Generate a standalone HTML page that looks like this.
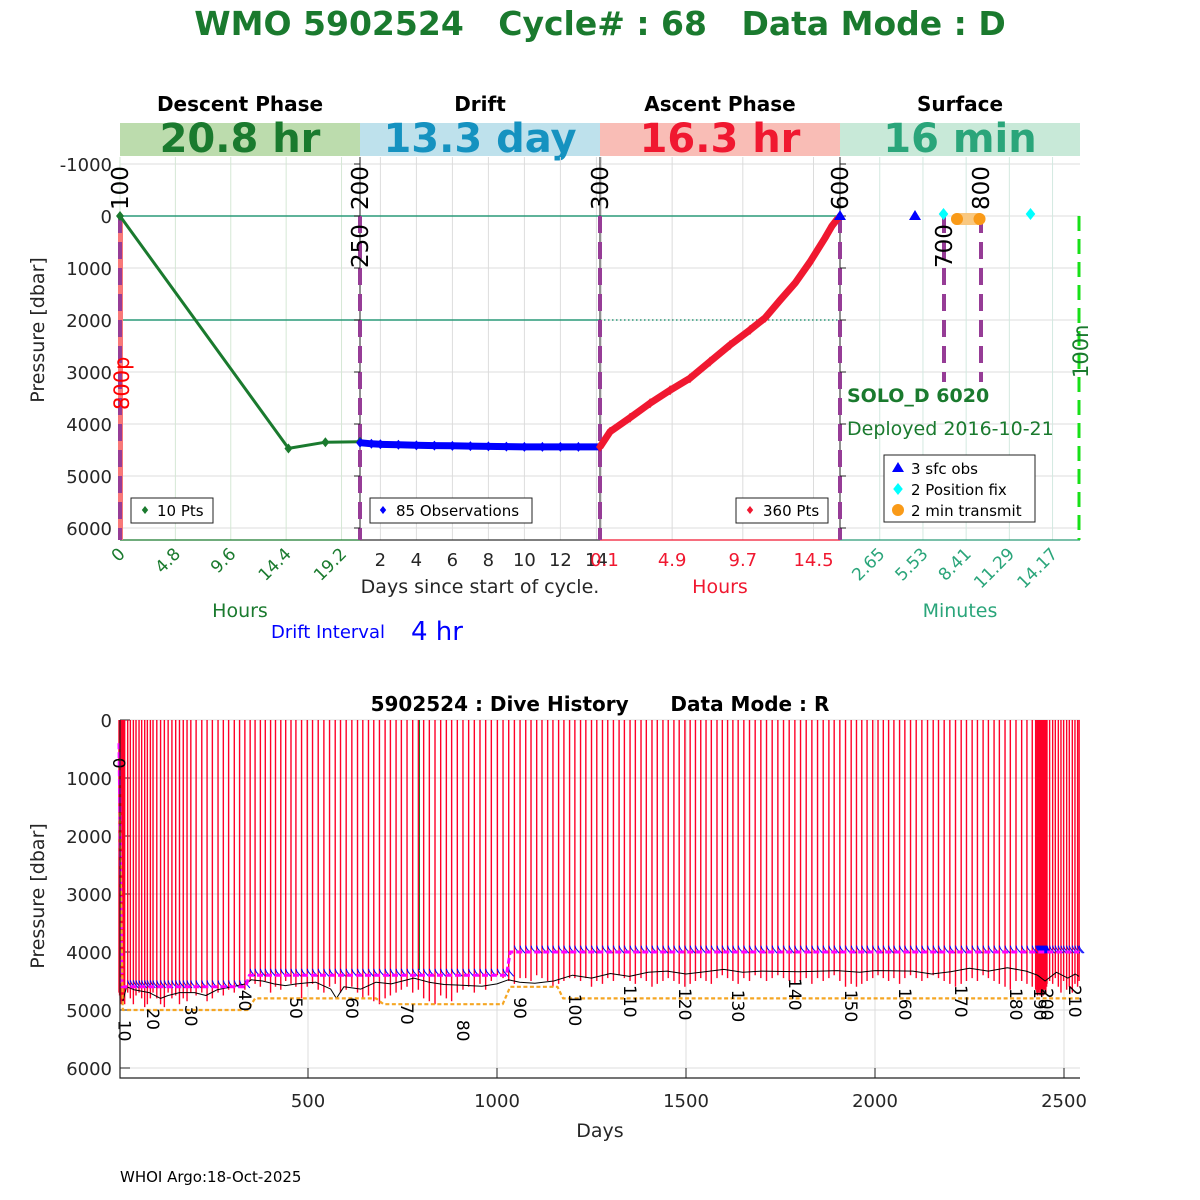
<!DOCTYPE html>
<html><head><meta charset="utf-8"><style>
html,body{margin:0;padding:0;background:#fff;}
svg{display:block;font-family:"DejaVu Sans","Liberation Sans",sans-serif;}
</style></head><body>
<svg id="root" width="1200" height="1200" viewBox="0 0 1200 1200" xmlns="http://www.w3.org/2000/svg">
<rect x="0" y="0" width="1200" height="1200" fill="#fff"/>
<text x="600" y="35" text-anchor="middle" font-size="33" font-weight="bold" fill="#1a7a2e" style="white-space:pre">WMO 5902524   Cycle# : 68   Data Mode : D</text>
<g font-size="20" font-weight="bold" text-anchor="middle" fill="#000">
<text x="240" y="111">Descent Phase</text>
<text x="480" y="111">Drift</text>
<text x="720" y="111">Ascent Phase</text>
<text x="960" y="111">Surface</text>
</g>
<g>
<rect x="120" y="123" width="240" height="33" fill="#bcdcad"/>
<rect x="360" y="123" width="240" height="33" fill="#bee1ec"/>
<rect x="600" y="123" width="240" height="33" fill="#f9bdb6"/>
<rect x="840" y="123" width="240" height="33" fill="#c8e9d8"/>
<g font-size="40" font-weight="bold" text-anchor="middle">
<text x="240" y="152" fill="#1a7a2e">20.8 hr</text>
<text x="480" y="152" fill="#1592c0">13.3 day</text>
<text x="720" y="152" fill="#f01830">16.3 hr</text>
<text x="960" y="152" fill="#2aa57a">16 min</text>
</g></g>
<g id="topchart"></g>
<g id="botchart"></g>
<text x="120" y="1182" font-size="15" fill="#000">WHOI Argo:18-Oct-2025</text>
</svg>
<script>
// ---------- TOP CHART DATA ----------
const pressureTicks = [-1000,0,1000,2000,3000,4000,5000,6000];
const descentHours = [0, 14.6, 17.8, 20.8];
const descentP = [0, 4470, 4350, 4340];
const driftDays = [0.87, 1.5, 2, 3, 4, 5, 6, 7, 8, 9, 10, 11, 12, 13, 14.2];
const driftP = [4360, 4380, 4390, 4400, 4410, 4415, 4420, 4425, 4430, 4435, 4440, 4440, 4440, 4440, 4440];
const ascentHours = [0, 0.68, 2.04, 3.4, 4.76, 6.11, 7.47, 8.83, 10.19, 11.21, 12.23, 13.25, 14.27, 15.29, 15.76, 16.17];
const ascentP = [4440, 4150, 3880, 3600, 3350, 3120, 2800, 2480, 2190, 1960, 1620, 1290, 880, 420, 190, 40];
const descentTicks = [0, 4.8, 9.6, 14.4, 19.2];
const driftTicks = [2, 4, 6, 8, 10, 12, 14];
const ascentTicks = [0.1, 4.9, 9.7, 14.5];
const surfaceTicks = [2.65, 5.53, 8.41, 11.29, 14.17];
const sfcObsMin = [0, 5];
const fixMin = [6.9, 12.7];
const transmitMin = [7.8, 9.3];

// ---------- BOTTOM CHART DATA ----------
const historyPTicks = [0,1000,2000,3000,4000,5000,6000];
const dayTicks = [500,1000,1500,2000,2500];
const cycleDays = [0,1.5,3,4.5,6,7.5,9,10.5,12,13.5,15,
23,30,38,45,53,60,68,75,83,90,
100,110,120,130,140,150,160,170,180,190,
204,219,233,247,262,276,290,305,319,333,
347,360,374,387,401,414,428,441,455,468,
483,498,512,527,542,557,572,586,601,616,
631,645,660,674,689,704,718,733,747,762,
777,792,806,821,836,851,866,880,895,910,
925,940,955,970,985,1001,1016,1031,1046,1061,
1076,1090,1105,1119,1134,1148,1163,1177,1192,1206,
1221,1235,1250,1264,1279,1293,1308,1323,1337,1352,
1366,1381,1395,1410,1424,1439,1453,1468,1482,1497,
1511,1525,1539,1553,1567,1582,1596,1610,1624,1638,
1653,1668,1683,1698,1713,1728,1743,1758,1773,1788,
1803,1818,1833,1848,1863,1878,1892,1907,1922,1937,
1951,1965,1979,1994,2008,2022,2036,2050,2065,2079,
2094,2109,2124,2139,2154,2168,2183,2198,2213,2228,
2242,2257,2271,2286,2300,2315,2329,2344,2358,2373,
2388,2402,2416,2425,
2428,2430,2432,2434,2436,2437,2439,2441,2443,2445,2447,2448,2450,2452,2454,2455,
2462,2470,2477,2485,2492,2499,2507,2514,2522,2529,2536,2540];
const cycleMaxP = [4700,4750,4800,4850,4900,4850,4800,4850,4800,4850,4900,
4700,4800,4900,4750,4700,4800,4950,4900,4800,4700,
4800,4900,4950,4700,4800,4750,4900,4800,4850,4700,
4750,4700,4850,4800,4700,4750,4650,4700,4600,4650,
4500,4550,4600,4500,4700,4600,4650,4500,4550,4600,
4800,4600,4550,4650,4700,4600,4550,4700,4650,4600,
4700,4800,4750,4850,4900,4800,4750,4700,4650,4600,
4700,4650,4800,4850,4900,4750,4800,4850,4700,4650,
4600,4700,4550,4650,4500,4400,4450,4500,4550,4450,
4450,4500,4400,4450,4500,4600,4550,4500,4450,4450,
4500,4450,4600,4500,4550,4450,4500,4400,4450,4500,
4550,4450,4500,4600,4550,4500,4450,4500,4550,4600,
4550,4500,4450,4500,4550,4450,4400,4450,4500,4550,
4450,4500,4400,4450,4500,4450,4400,4450,4500,4550,
4500,4450,4550,4450,4500,4450,4400,4500,4600,4550,
4600,4550,4500,4450,4400,4450,4500,4450,4550,4450,
4400,4450,4500,4450,4400,4450,4500,4550,4600,4550,
4500,4450,4500,4400,4450,4500,4550,4600,4650,4500,
4500,4550,4600,4650,
4700,4750,4700,4650,4700,4750,4700,4650,4700,4750,4650,4600,4650,4700,4600,4550,
4500,4550,4450,4600,4700,4500,4650,4600,4700,4550,4600,4500];
const bottomDays = [10,20,40,80,110,130,160,200,230,260,300,335,350,380,410,440,470,500,520,560,575,595,640,680,720,780,820,860,900,960,1000,1030,1060,1100,1150,1200,1250,1300,1350,1400,1450,1500,1550,1600,1650,1700,1800,1900,1960,2000,2100,2150,2200,2250,2300,2350,2400,2430,2450,2480,2510,2530,2540];
const bottomP = [4850,4600,4650,4700,4800,4750,4700,4700,4750,4650,4600,4550,4480,4500,4550,4580,4550,4530,4520,4640,4800,4600,4640,4520,4550,4450,4520,4560,4570,4590,4550,4480,4520,4540,4500,4400,4450,4370,4420,4350,4330,4380,4340,4300,4350,4330,4340,4320,4350,4320,4330,4380,4340,4280,4330,4270,4330,4400,4500,4350,4450,4380,4420];
const parkDays = [0,8,335,345,1025,1035,2540];
const parkP = [400,4600,4600,4400,4400,4000,4000];
const profDays = [2,10,340,360,680,700,1015,1035,1160,1175,2540];
const profP = [1600,5000,5000,4800,4800,4900,4900,4600,4600,4800,4800];
const labelCycles = [0,10,20,30,40,50,60,70,80,90,100,110,120,130,140,150,160,170,180,190,200,210];
const labelP = [650,5170,4970,4910,4650,4780,4780,4880,5170,4780,4720,4570,4620,4650,4450,4650,4620,4570,4620,4620,4620,4570];

const NS = 'http://www.w3.org/2000/svg';
function mk(parent, tag, attrs, txt){
  const e = document.createElementNS(NS, tag);
  for (const k in attrs) e.setAttribute(k, attrs[k]);
  if (txt !== undefined) e.textContent = txt;
  parent.appendChild(e);
  return e;
}
const tg = document.getElementById('topchart');
const bg = document.getElementById('botchart');

const yT = p => 216 + p * 0.052;
const xDesc = h => 120 + h * 240 / 20.8;
const xDrift = d => 360 + (d - 0.867) * 18;
const xAsc = h => 600 + h * 240 / 16.3;
const xSfc = m => 840 + m * 15;

let g = mk(tg, 'g', {});


pressureTicks.forEach(p => {
  const l = mk(g, 'line', {x1:120, x2:1080, y1:yT(p), y2:yT(p), stroke:'#dcdcdc', 'stroke-width':1});
  
  
});
descentTicks.forEach(t => { const l = mk(g,'line',{x1:xDesc(t),x2:xDesc(t),y1:157,y2:540,stroke:'#d5e8d5'});   });
driftTicks.forEach(t => { const l = mk(g,'line',{x1:xDrift(t),x2:xDrift(t),y1:157,y2:540,stroke:'#dcdcdc'});   });
ascentTicks.forEach(t => { const l = mk(g,'line',{x1:xAsc(t),x2:xAsc(t),y1:157,y2:540,stroke:'#dcdcdc'});   });
surfaceTicks.forEach(t => { const l = mk(g,'line',{x1:xSfc(t),x2:xSfc(t),y1:157,y2:540,stroke:'#d3e9e0'});   });

let r = mk(tg,'line',{x1:120,x2:840,y1:yT(0),y2:yT(0),stroke:'#2a9a78','stroke-width':1.5});
 
r = mk(tg,'line',{x1:120,x2:600,y1:yT(2000),y2:yT(2000),stroke:'#2a9a78','stroke-width':1.5});
 
r = mk(tg,'line',{x1:600,x2:840,y1:yT(2000),y2:yT(2000),stroke:'#2a9a78','stroke-width':1.5,'stroke-dasharray':'1.5 2.5'});
 

[[120,360,'#1a7a2e'],[360,600,'#333'],[600,840,'#f01830'],[840,1080,'#2a9a78']].forEach(a=>{
  const l = mk(tg,'line',{x1:a[0],x2:a[1],y1:540,y2:540,stroke:a[2],'stroke-width':1.2});
   
});
[360,600,840].forEach(x=>{
  const l = mk(tg,'line',{x1:x,x2:x,y1:157,y2:540,stroke:'#222','stroke-width':1});
   
});
r = mk(tg,'rect',{x:118,y:216,width:5,height:324,fill:'#f87878'});
 

[[120,216,540],[360,216,540],[600,216,540],[840,216,540],[944,216,382],[981,216,382]].forEach(a=>{
  const l = mk(tg,'line',{x1:a[0],x2:a[0],y1:a[1],y2:a[2],stroke:'#963c96','stroke-width':4,'stroke-dasharray':'17 9'});
   
});
r = mk(tg,'line',{x1:1079,x2:1079,y1:216,y2:540,stroke:'#18e018','stroke-width':3,'stroke-dasharray':'15 8'});
 

pressureTicks.forEach(p=>{
  const t = mk(tg,'text',{x:112,y:yT(p)+7,'text-anchor':'end','font-size':18,fill:'#262626'},String(p));
   
  const k = mk(tg,'line',{x1:354,x2:360,y1:yT(p),y2:yT(p),stroke:'#222'});
   
  const k2 = mk(tg,'line',{x1:840,x2:846,y1:yT(p),y2:yT(p),stroke:'#222'});
   
});
r = mk(tg,'text',{x:0,y:0,'text-anchor':'middle','font-size':19,fill:'#262626',transform:'translate(44,330) rotate(-90)'},'Pressure [dbar]');
 

descentTicks.forEach(t=>{
  const x = xDesc(t)+6;
  const e = mk(tg,'text',{x:x,y:555,'text-anchor':'end','font-size':17,fill:'#1a7a2e',transform:`rotate(-45 ${x} 555)`},String(t));
   
});
driftTicks.forEach(t=>{
  const e = mk(tg,'text',{x:xDrift(t),y:566,'text-anchor':'middle','font-size':18,fill:'#262626'},String(t));
   
});
ascentTicks.forEach(t=>{
  const e = mk(tg,'text',{x:xAsc(t)+(t<1?3:0),y:566,'text-anchor':'middle','font-size':18,fill:'#f01830'},String(t));
   
});
surfaceTicks.forEach(t=>{
  const x = xSfc(t)+6;
  const e = mk(tg,'text',{x:x,y:555,'text-anchor':'end','font-size':17,fill:'#2aa57a',transform:`rotate(-45 ${x} 555)`},String(t));
   
});
[['Days since start of cycle.',480,593,19,'#262626','drift-x-title'],['Hours',720,593,19,'#f01830','ascent-x-title'],['Hours',240,617,19,'#1a7a2e','descent-x-title'],['Minutes',960,617,19,'#2aa57a','surface-x-title'],['Drift Interval',328,638,18,'#0000ff','drift-interval-label'],['4 hr',437,640,26,'#0000ff','drift-interval-value']].forEach(a=>{
  const e = mk(tg,'text',{x:a[1],y:a[2],'text-anchor':'middle','font-size':a[3],fill:a[4]},a[0]);
   
});

[['100',120,210,'#000'],['200',360,210,'#000'],['250',360,268,'#000'],['300',600,210,'#000'],['600',840,210,'#000'],['700',944,268,'#000'],['800',981,210,'#000'],['800p',121,410,'#ff0000'],['100n',1080,378,'#1a7a2e']].forEach(a=>{
  const e = mk(tg,'text',{x:0,y:0,'font-size':a[0].length>3?21:23,fill:a[3],transform:`translate(${a[1]+8},${a[2]}) rotate(-90)`},a[0]);
   
});

function poly(parent, xs, ys, stroke, w, name){
  const pts = xs.map((x,i)=>x.toFixed(1)+','+ys[i].toFixed(1)).join(' ');
  const e = mk(parent,'polyline',{points:pts,fill:'none',stroke:stroke,'stroke-width':w,'stroke-linejoin':'round'});
  
  
  return e;
}
function diamond(parent,x,y,s,fill,name){
  const e = mk(parent,'polygon',{points:`${x},${y-s} ${x+s*0.8},${y} ${x},${y+s} ${x-s*0.8},${y}`,fill:fill});
  
  
}
poly(tg, descentHours.map(xDesc), descentP.map(yT), '#1a7a2e', 3, 'descent-line');
descentHours.forEach((h,i)=>diamond(tg,xDesc(h),yT(descentP[i]),5,'#1a7a2e','descent-point'));
poly(tg, driftDays.map(xDrift), driftP.map(yT), '#0000ff', 7, 'drift-line');
driftDays.forEach((d,i)=>diamond(tg,xDrift(d),yT(driftP[i]),5,'#0000ff','drift-point'));
poly(tg, ascentHours.map(xAsc), ascentP.map(yT), '#f01830', 7, 'ascent-line');
ascentHours.forEach((h,i)=>diamond(tg,xAsc(h),yT(ascentP[i]),5,'#f01830','ascent-point'));

let tb = mk(tg,'line',{x1:xSfc(transmitMin[0]),x2:xSfc(transmitMin[1]),y1:yT(0)+3,y2:yT(0)+3,stroke:'#f9c880','stroke-width':12,'stroke-linecap':'round'});
 
transmitMin.forEach(m=>{ const c = mk(tg,'circle',{cx:xSfc(m),cy:yT(0)+3,r:6,fill:'#f99a18'});   });
sfcObsMin.forEach(m=>{ const x=xSfc(m), y=yT(0); const t = mk(tg,'polygon',{points:`${x},${y-6} ${x+6},${y+4} ${x-6},${y+4}`,fill:'#0000ff'});   });
fixMin.forEach(m=>diamond(tg,xSfc(m),yT(0)-2,6,'#00ffff','position-fix-point'));

r = mk(tg,'text',{x:847,y:402,'font-size':19,'font-weight':'bold',fill:'#1a7a2e'},'SOLO_D 6020');
 
r = mk(tg,'text',{x:847,y:435,'font-size':19,fill:'#1a7a2e'},'Deployed 2016-10-21');
 

function legendBox(x,y,w,h,name){
  const e = mk(tg,'rect',{x:x,y:y,width:w,height:h,fill:'#fff',stroke:'#222','stroke-width':1});
   
}
function legText(x,y,s,name){
  const e = mk(tg,'text',{x:x,y:y,'font-size':15,fill:'#000'},s);
   
}
legendBox(131,498,82,25,'descent-legend'); diamond(tg,145,510,4,'#1a7a2e','legend-marker'); legText(157,516,'10 Pts','descent-legend-text');
legendBox(370,498,162,25,'drift-legend'); diamond(tg,383,510,4,'#0000ff','legend-marker'); legText(396,516,'85 Observations','drift-legend-text');
legendBox(736,498,92,25,'ascent-legend'); diamond(tg,750,510,4,'#f01830','legend-marker'); legText(763,516,'360 Pts','ascent-legend-text');
legendBox(884,455,151,67,'surface-legend');
r = mk(tg,'polygon',{points:'898,462 904,472 892,472',fill:'#0000ff'});  
legText(911,474,'3 sfc obs','sfc-obs-legend-text');
diamond(tg,898,489,6,'#00ffff','legend-marker'); legText(911,495,'2 Position fix','position-fix-legend-text');
r = mk(tg,'circle',{cx:898,cy:510,r:6,fill:'#f99a18'});  
legText(911,516,'2 min transmit','transmit-legend-text');

// ---------- BOTTOM CHART ----------
const yB = p => 720 + p * 0.058;
const xB = d => 119 + d * 0.378;
let gb = mk(bg,'g',{});
 
historyPTicks.forEach(p=>{
  const l = mk(gb,'line',{x1:120,x2:1080,y1:yB(p),y2:yB(p),stroke:'#dcdcdc'});
   
  const k = mk(gb,'line',{x1:120,x2:130,y1:yB(p),y2:yB(p),stroke:'#222'});
   
  const t = mk(bg,'text',{x:112,y:yB(p)+7,'text-anchor':'end','font-size':18,fill:'#262626'},String(p));
   
});
dayTicks.forEach(d=>{
  const l = mk(gb,'line',{x1:xB(d),x2:xB(d),y1:720,y2:1078,stroke:'#dcdcdc'});
   
  const k = mk(gb,'line',{x1:xB(d),x2:xB(d),y1:1068,y2:1078,stroke:'#222'});
   
  const t = mk(bg,'text',{x:xB(d),y:1107,'text-anchor':'middle','font-size':18,fill:'#262626'},String(d));
   
});
cycleDays.forEach((d,i)=>{
  const l = mk(bg,'line',{x1:xB(d),x2:xB(d),y1:720,y2:yB(cycleMaxP[i]),stroke:'#ff0028','stroke-width':1.4});
   
});
r = mk(bg,'line',{x1:xB(795),x2:xB(795),y1:720,y2:970,stroke:'#1a7a2e','stroke-width':1});
 
function parkAt(d){ let v = parkP[0]; for (let i=0;i<parkDays.length;i++){ if (parkDays[i] <= d) v = parkP[i]; } return v; }
cycleDays.forEach((d,i)=>{
  if (i < 11) return;
  const p = parkAt(d);
  const pth = mk(bg,'polyline',{points:`${xB(d)},${yB(p-110)} ${xB(d)+1},${yB(p-60)} ${xB(d)+5},${yB(p+20)}`,fill:'none',stroke:'#0000ff','stroke-width':1});
   
});
poly(bg, bottomDays.map(xB), bottomP.map(yB), '#000', 1, 'bottom-depth-line');
let pk = poly(bg, parkDays.map(xB), parkP.map(yB), '#ff00ff', 3, 'park-pressure-line'); pk.setAttribute('stroke-dasharray','6 3');
let pf = poly(bg, profDays.map(xB), profP.map(yB), '#f5a623', 2.2, 'profile-pressure-line'); pf.setAttribute('stroke-dasharray','4 2.5');
labelCycles.forEach((c,i)=>{
  const x = xB(cycleDays[c]) - 6, y = yB(labelP[i]);
  const t = mk(bg,'text',{x:0,y:0,'font-size':17,fill:'#000',transform:`translate(${x},${y}) rotate(90)`},String(c));
   
});
r = mk(bg,'polyline',{points:'120,720 120,1078 1080,1078',fill:'none',stroke:'#222','stroke-width':1.2});
 
r = mk(bg,'text',{x:600,y:711,'text-anchor':'middle','font-size':20,'font-weight':'bold',fill:'#000',style:'white-space:pre'},'5902524 : Dive History      Data Mode : R');
 
r = mk(bg,'text',{x:600,y:1137,'text-anchor':'middle','font-size':19,fill:'#262626'},'Days');
 
r = mk(bg,'text',{x:0,y:0,'text-anchor':'middle','font-size':19,fill:'#262626',transform:'translate(44,896) rotate(-90)'},'Pressure [dbar]');
 
</script>
</body></html>
